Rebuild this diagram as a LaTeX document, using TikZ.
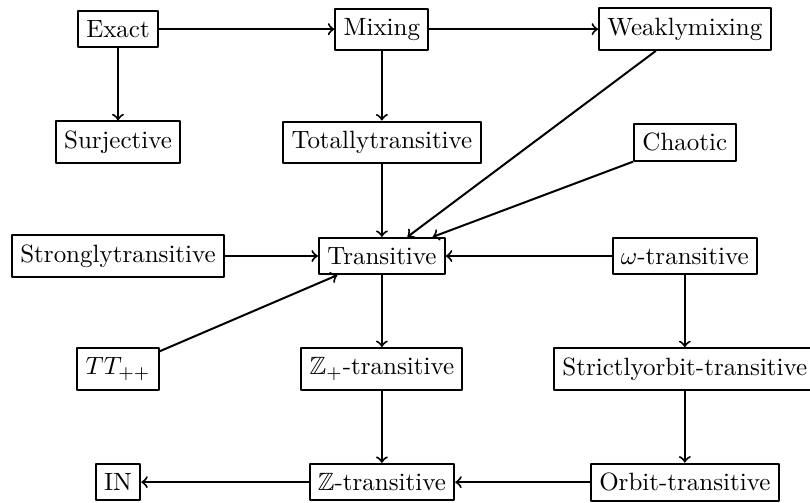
\documentclass[tikz,border=0pt]{standalone}
\usepackage{amssymb}
\begin{document}
\begin{tikzpicture}[thick,scale=1,line join=round,>=to]
  \tikzset{prop/.style={draw,rectangle,inner ysep=3.8pt}}
  \useasboundingbox (-1.66,0.41) rectangle (9.73,-6.65);
  % first row
  \node[prop] (exact) at (0,0) {Exact};
  \node[prop] (mixing) at (3.71,0) {Mixing};
  \node[prop] (weakmix) at (7.97,0) {Weaklymixing};
  % second row
  \node[prop] (surj) at (0,-1.59) {Surjective};
  \node[prop] (totaltr) at (3.71,-1.59) {Totallytransitive};
  \node[prop] (chaotic) at (7.97,-1.59) {Chaotic};
  % third row
  \node[prop] (strongtr) at (0,-3.19) {Stronglytransitive};
  \node[prop] (trans) at (3.71,-3.19) {Transitive};
  \node[prop] (omegatr) at (7.97,-3.19) {$\omega$-transitive};
  % fourth row
  \node[prop] (ttpp) at (0,-4.78) {$TT_{++}$};
  \node[prop] (zplustr) at (3.71,-4.78) {$\mathbb{Z}_{+}$-transitive};
  \node[prop] (strictorb) at (7.97,-4.78) {Strictlyorbit-transitive};
  % fifth row
  \node[prop] (nat) at (0,-6.37) {IN};
  \node[prop] (ztr) at (3.71,-6.37) {$\mathbb{Z}$-transitive};
  \node[prop] (orbtr) at (7.97,-6.37) {Orbit-transitive};

  \foreach \a/\b in {exact/mixing,mixing/weakmix,exact/surj,mixing/totaltr,
      totaltr/trans,weakmix/trans,chaotic/trans,strongtr/trans,omegatr/trans,
      ttpp/trans,trans/zplustr,omegatr/strictorb,zplustr/ztr,strictorb/orbtr,
      orbtr/ztr,ztr/nat} {
      \draw [->] (\a) -- (\b);
    }
\end{tikzpicture}
\end{document}
